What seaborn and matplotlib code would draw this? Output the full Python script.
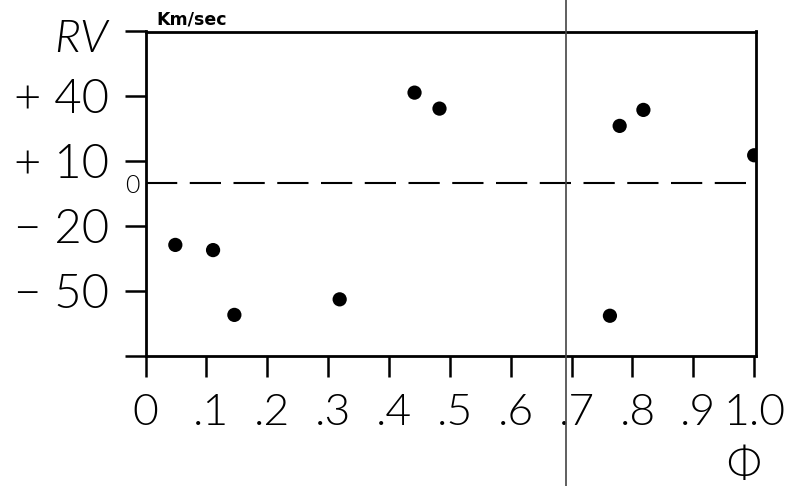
import matplotlib
matplotlib.use("Agg")
import matplotlib.pyplot as plt
import matplotlib.transforms as mtransforms
import pandas as pd
import seaborn as sns

# Radial velocity (km/s) against orbital phase
phase = [0.049, 0.111, 0.146, 0.319, 0.442, 0.483, 0.763, 0.779, 0.818, 1.0]
rv = [-28.8, -31.2, -61.2, -54.0, 41.7, 34.3, -61.6, 26.3, 33.7, 12.7]

x_ticks = [0.0, 0.1, 0.2, 0.3, 0.4, 0.5, 0.6, 0.7, 0.8, 0.9, 1.0]
x_tick_labels = ["0", ".1", ".2", ".3", ".4", ".5", ".6", ".7", ".8", ".9", "1.0"]
y_ticks = [-80, -50, -20, 10, 40, 70]
y_tick_labels = ["", "\u2212 50", "\u2212 20", "+ 10", "+ 40", ""]
reference_phase = 0.691

sns.set_theme(style="ticks")
plt.rcParams["font.family"] = ["Lato", "DejaVu Sans"]

W, H = 790, 486
fig = plt.figure(figsize=(W / 100, H / 100), dpi=100)
fig.patch.set_facecolor("white")
left_px, right_px, top_px, bottom_px = 145.5, 756, 31.5, 355.5
ax = fig.add_axes([left_px / W, 1 - bottom_px / H,
                   (right_px - left_px) / W, (bottom_px - top_px) / H])
ax.set_facecolor("white")

df = pd.DataFrame({"phase": phase, "rv": rv})
sns.scatterplot(data=df, x="phase", y="rv", ax=ax, s=105, color="black",
                edgecolor="none", linewidth=0, zorder=3, legend=False)

# zero-velocity reference
ax.axhline(0, color="black", lw=1.5, linestyle=(0, (15, 6)), zorder=2)
# thin vertical rule across the whole sheet
ax.axvline(reference_phase, ymin=-0.45, ymax=1.15, color="#444444",
           lw=1.2, clip_on=False, zorder=4)

ax.set_xlim(0, 1.003)
ax.set_ylim(-80, 70)
ax.set_xticks(x_ticks)
ax.set_xticklabels(x_tick_labels)
ax.set_yticks(y_ticks)
ax.set_yticklabels(y_tick_labels)
ax.set_xlabel("")
ax.set_ylabel("")

for side in ["left", "right", "top", "bottom"]:
    ax.spines[side].set_visible(True)
    ax.spines[side].set_color("black")
    ax.spines[side].set_linewidth(2.0)

ax.tick_params(axis="both", direction="out", length=15, width=1.8,
               color="black", labelcolor="black")
ax.tick_params(axis="x", pad=13, labelsize=32)
ax.tick_params(axis="y", pad=11, labelsize=34)
ax.tick_params(top=False, right=False)

for lab in ax.get_xticklabels() + ax.get_yticklabels():
    lab.set_fontweight(300)

# the leading point hangs to the left, so nudge dotted labels right
shift = mtransforms.ScaledTranslation(5 / 100, 0, fig.dpi_scale_trans)
for lab in ax.get_xticklabels():
    if lab.get_text().startswith("."):
        lab.set_transform(lab.get_transform() + shift)

# axis captions
fig.text(108 / W, 1 - 39 / H, "RV", ha="right", va="center", fontsize=33,
         fontstyle="italic", fontweight=300, color="black")
fig.text(156 / W, 1 - 25 / H, "Km/sec", ha="left", va="baseline",
         fontsize=12.5, fontweight="bold", color="black",
         family=["DejaVu Sans"])
zero_tr = mtransforms.blended_transform_factory(ax.transAxes, ax.transData)
zero_tr = zero_tr + mtransforms.ScaledTranslation(-6 / 100, -3 / 100, fig.dpi_scale_trans)
ax.text(0, 0, "0", transform=zero_tr, ha="right", va="center", fontsize=18,
        fontweight=300, color="black")
fig.text(744 / W, 1 - 447 / H, "\u03a6", ha="center", va="top", fontsize=31,
         fontweight=300, color="black")

fig.savefig("out.png", dpi=100, facecolor="white")
